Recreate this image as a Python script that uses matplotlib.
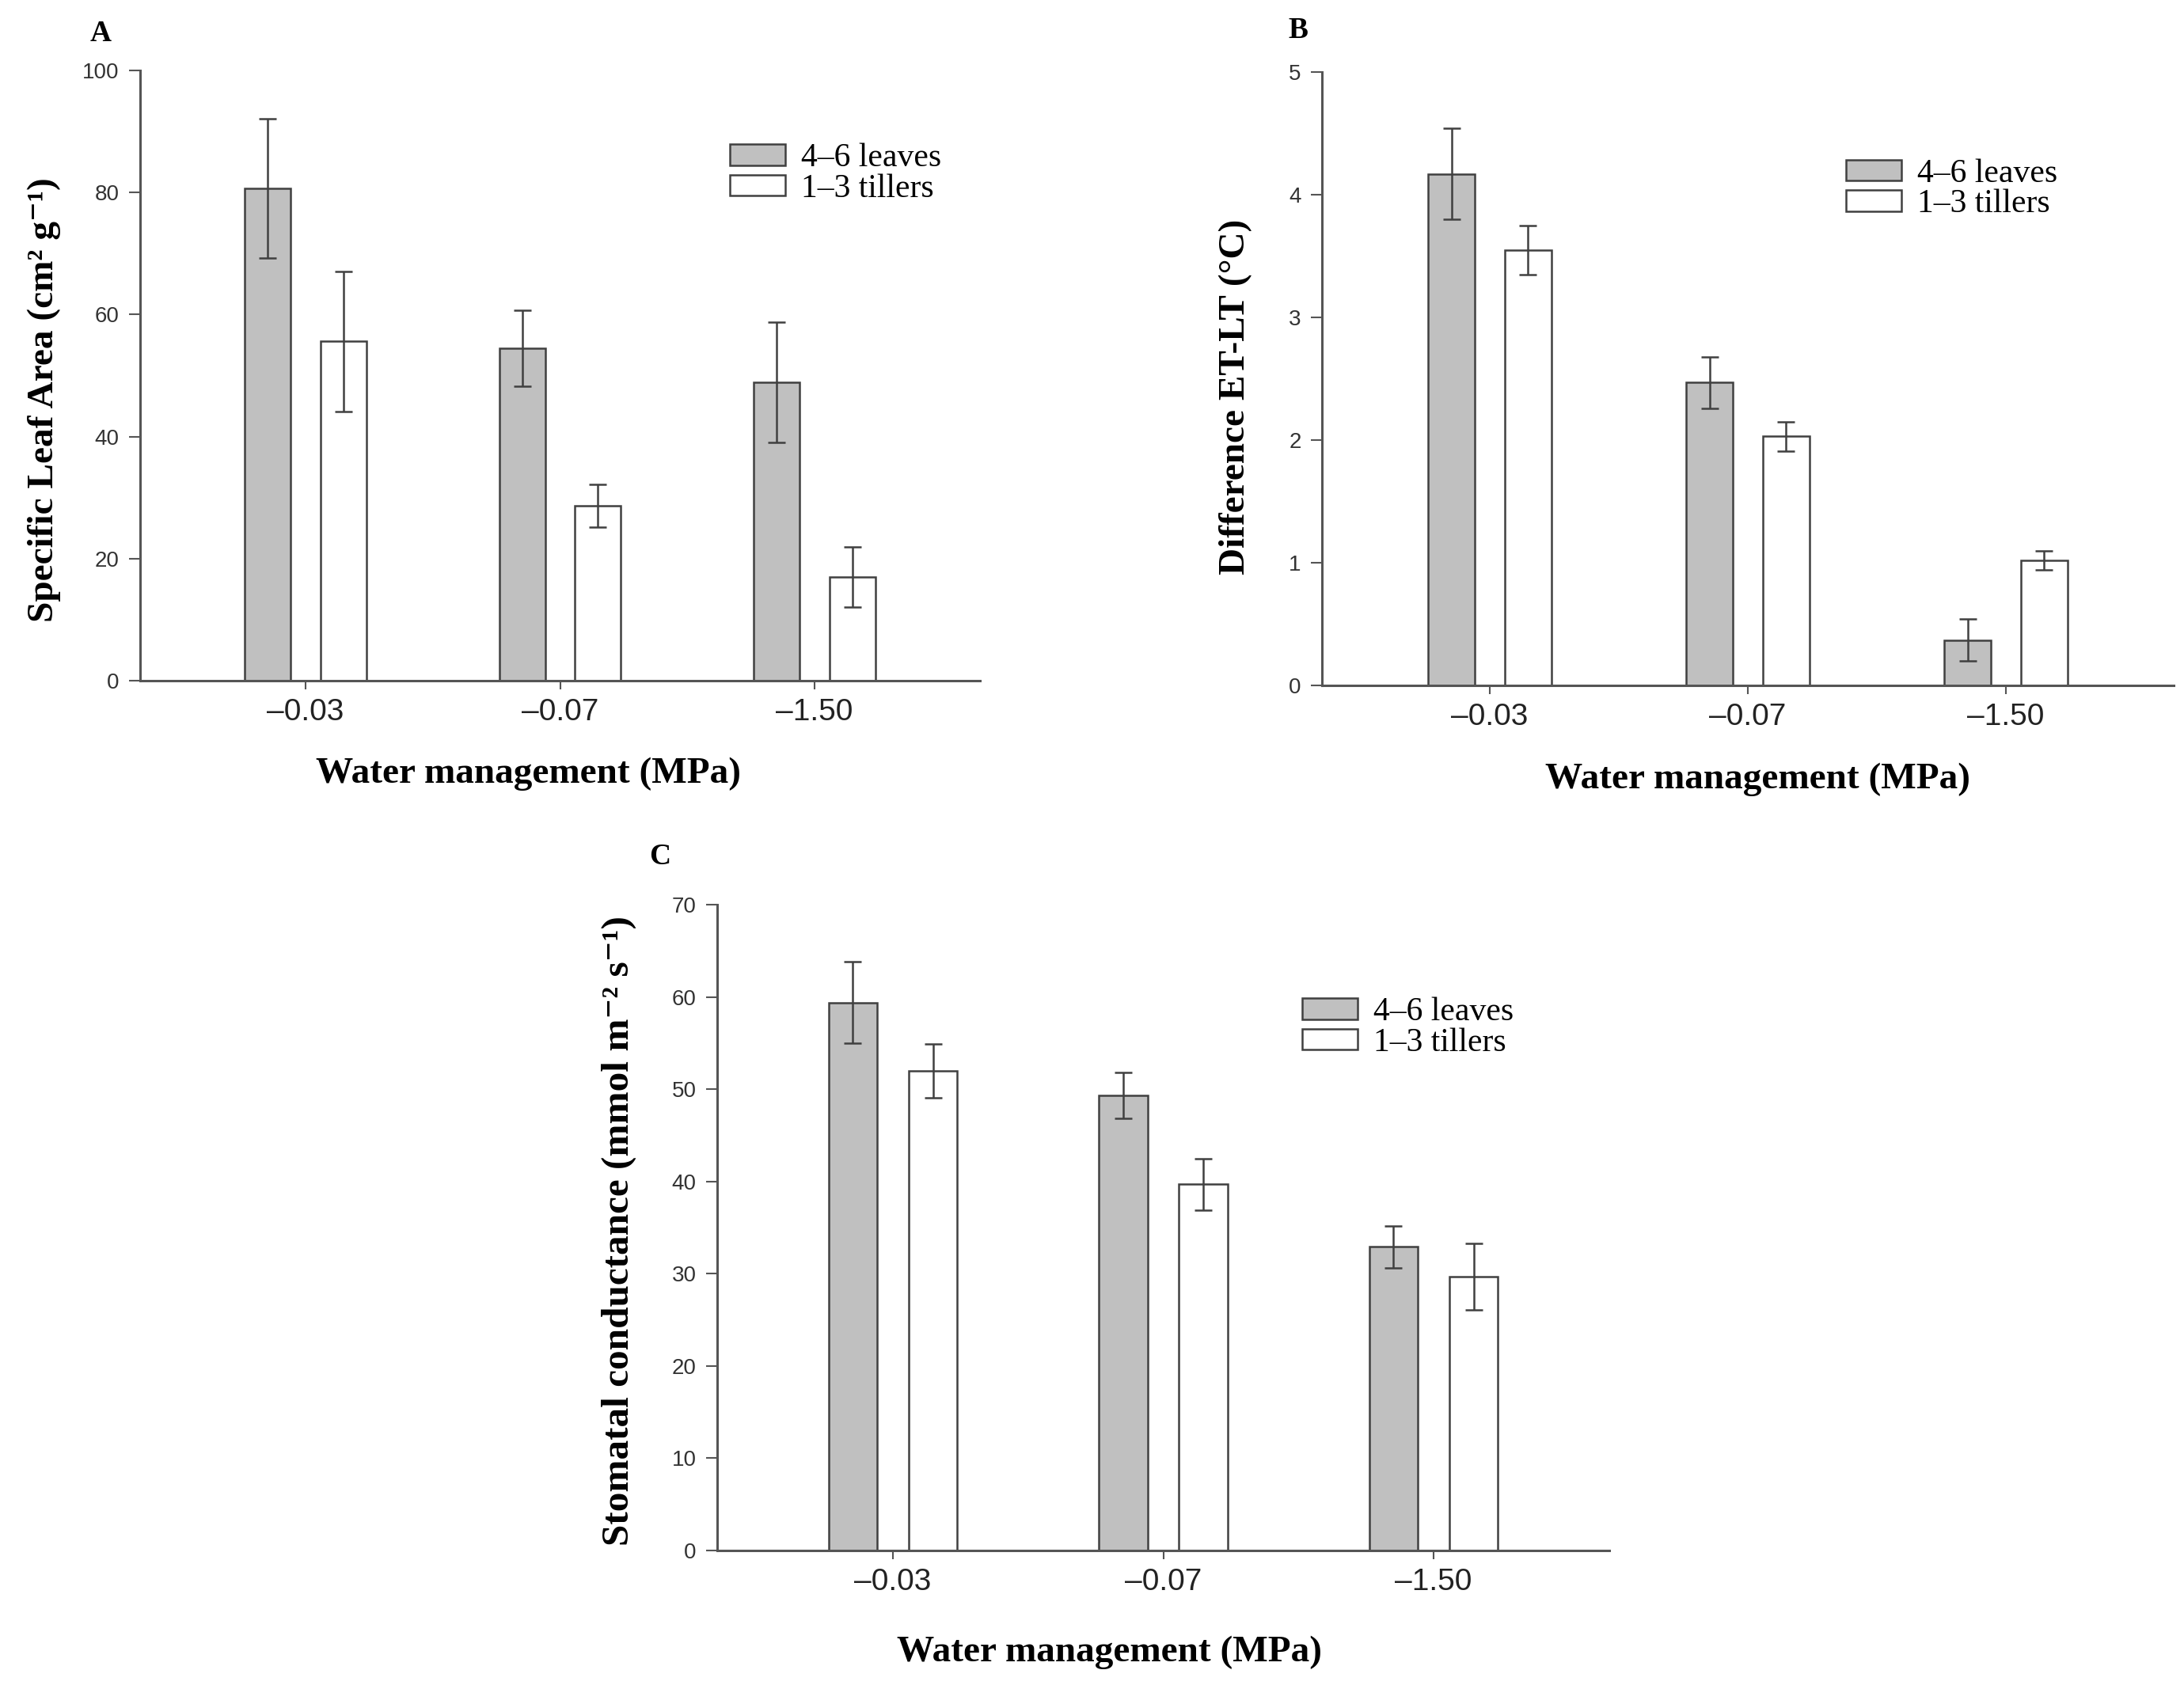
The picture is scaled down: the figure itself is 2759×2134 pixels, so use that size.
import numpy as np
import matplotlib
matplotlib.use("Agg")
from matplotlib import pyplot as plt

# categories and series
water = ["\u20130.03", "\u20130.07", "\u20131.50"]
series = ["4\u20136 leaves", "1\u20133 tillers"]

# A: specific leaf area
sla_leaves = [80.7, 54.5, 48.9]
sla_leaves_err = [11.4, 6.2, 9.9]
sla_tillers = [55.6, 28.7, 17.0]
sla_tillers_err = [11.5, 3.5, 4.9]

# B: difference ET-LT
dif_leaves = [4.17, 2.47, 0.37]
dif_leaves_err = [0.37, 0.21, 0.17]
dif_tillers = [3.55, 2.03, 1.02]
dif_tillers_err = [0.20, 0.12, 0.08]

# C: stomatal conductance
gs_leaves = [59.4, 49.3, 32.9]
gs_leaves_err = [4.4, 2.5, 2.3]
gs_tillers = [52.0, 39.7, 29.7]
gs_tillers_err = [2.9, 2.8, 3.6]

W, H = 2759, 2134
fig = plt.figure(figsize=(W / 100, H / 100), dpi=100)

SERIF = ["Liberation Serif", "DejaVu Serif"]
SANS = ["Liberation Sans", "DejaVu Sans"]
EDGE = "#404040"
GRAY = "#c0c0c0"


def px_axes(left, top, right, bottom):
    return fig.add_axes([left / W, 1 - bottom / H, (right - left) / W, (bottom - top) / H])


def draw_panel(ax, leaves, leaves_err, tillers, tillers_err, ymax, ystep, ylabel,
               ylab_xy, xlab_xy, leg_anchor, ylab_size=34):
    x = np.arange(len(water))
    w = 0.18
    off = 0.148
    ekw = dict(ecolor=EDGE, elinewidth=1.8, capsize=8, capthick=1.8)
    ax.bar(x - off, leaves, w, yerr=leaves_err, color=GRAY, edgecolor=EDGE,
           linewidth=1.8, error_kw=ekw, label=series[0], zorder=2)
    ax.bar(x + off, tillers, w, yerr=tillers_err, color="white", edgecolor=EDGE,
           linewidth=1.8, error_kw=ekw, label=series[1], zorder=2)

    ax.set_xlim(-0.65, 2.65)
    ax.set_ylim(0, ymax)
    ax.set_yticks(np.arange(0, ymax + ystep / 2, ystep))
    ax.set_xticks(x)
    ax.set_xticklabels(water, fontfamily=SANS, fontsize=28, color="#222222")
    for lab in ax.get_yticklabels():
        lab.set_fontfamily(SANS)
    ax.tick_params(axis="y", labelsize=20, labelcolor="#333333", length=10, width=1.5,
                   color="#555555", pad=9, direction="out")
    ax.tick_params(axis="x", length=8, width=1.5, color="#555555", pad=8, direction="out")

    for s in ["top", "right"]:
        ax.spines[s].set_visible(False)
    for s in ["left", "bottom"]:
        ax.spines[s].set_color("#555555")
        ax.spines[s].set_linewidth(2.2)

    ax.set_ylabel(ylabel, fontfamily=SERIF, fontweight="bold", fontsize=ylab_size, va="center")
    ax.yaxis.set_label_coords(*ylab_xy)
    ax.set_xlabel("Water management (MPa)", fontfamily=SERIF, fontweight="bold",
                  fontsize=34, va="center")
    ax.xaxis.set_label_coords(*xlab_xy)

    ax.legend(loc="upper left", bbox_to_anchor=leg_anchor, frameon=False,
              prop=dict(family=SERIF, size=30), handlelength=1.68, handleheight=0.6,
              handletextpad=0.48, labelspacing=0.0, borderaxespad=0, borderpad=0)


axA = px_axes(177, 89, 1238, 860)
draw_panel(axA, sla_leaves, sla_leaves_err, sla_tillers, sla_tillers_err, 100, 20,
           "Specific Leaf Area (cm\u00b2 g\u207b\u00b9)",
           (-0.114, 0.46), (0.462, -0.153), (0.702, 0.881))

axB = px_axes(1670, 91, 2746, 866)
draw_panel(axB, dif_leaves, dif_leaves_err, dif_tillers, dif_tillers_err, 5, 1,
           "Difference ET-LT (\u00b0C)",
           (-0.101, 0.47), (0.512, -0.153), (0.615, 0.859))

axC = px_axes(906, 1143, 2033, 1959)
draw_panel(axC, gs_leaves, gs_leaves_err, gs_tillers, gs_tillers_err, 70, 10,
           "Stomatal conductance (mmol m\u207b\u00b2 s\u207b\u00b9)",
           (-0.110, 0.495), (0.44, -0.158), (0.656, 0.857), ylab_size=35.5)

for letter, (px, py) in zip("ABC", [(127, 43), (1640, 38), (834, 1083)]):
    fig.text(px / W, 1 - py / H, letter, fontfamily=SERIF, fontweight="bold",
             fontsize=27, ha="center", va="center")

fig.savefig("out.png", dpi=100, facecolor="white")
